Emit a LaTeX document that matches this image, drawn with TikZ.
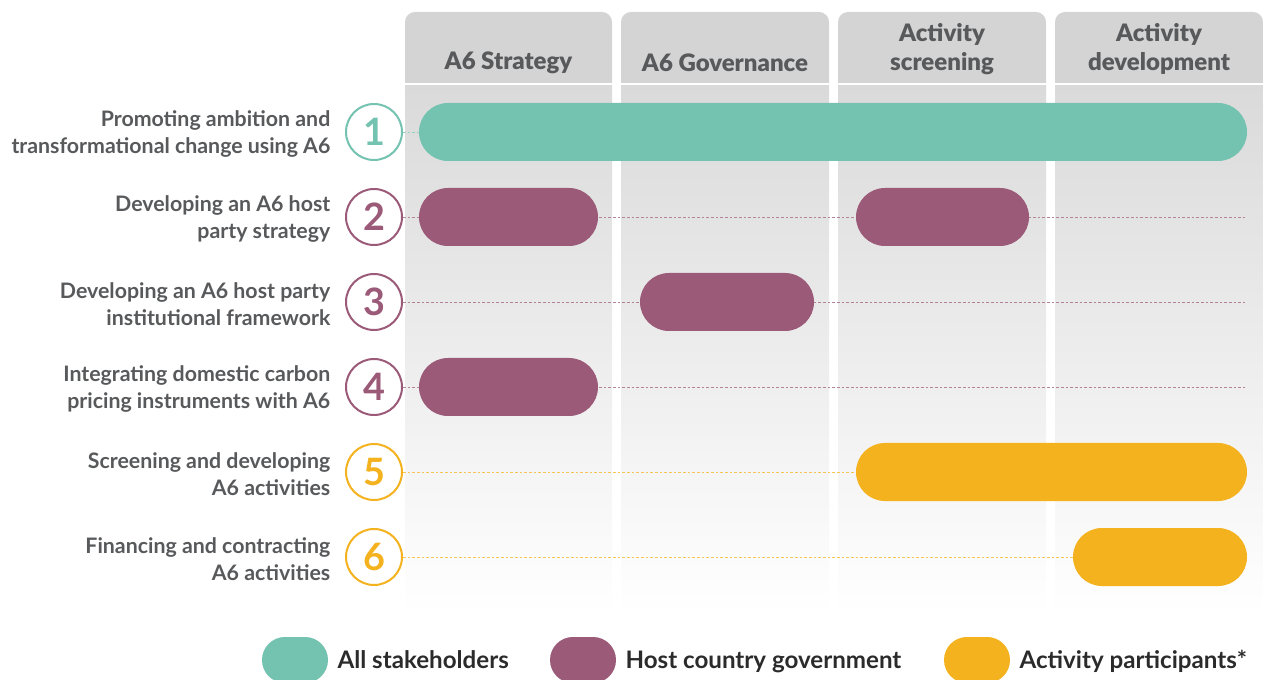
\documentclass[tikz,border=0pt]{standalone}
\usepackage{fontspec}
\setmainfont{Lato}
\newfontfamily\heavyfont{Lato Black}
\usetikzlibrary{positioning}
\definecolor{tealbar}{HTML}{74C2B0}
\definecolor{plumbar}{HTML}{9B5A78}
\definecolor{goldbar}{HTML}{F3B21E}
\definecolor{headgray}{HTML}{D4D4D4}
\definecolor{bodygray}{HTML}{DADADA}
\definecolor{labelgray}{HTML}{58595B}
\definecolor{legendink}{HTML}{2B2B2B}
\tikzstyle{coltitle} = [align=center, text=labelgray,
    font=\fontsize{18}{21.75}\selectfont\heavyfont]
\tikzstyle{rowlabel} = [align=right, anchor=east, text=labelgray,
    font=\fontsize{16}{20}\selectfont\bfseries]
\tikzstyle{numring} = [circle, draw, line width=1.5pt, fill=white,
    minimum size=42pt, inner sep=0pt, font=\fontsize{28.3}{28.3}\selectfont\bfseries]
\tikzstyle{pill} = [rectangle, rounded corners=21.7pt, minimum height=43.5pt, inner sep=0pt]
\tikzstyle{keypill} = [rectangle, rounded corners=17.2pt, minimum height=34.5pt,
    minimum width=49.5pt, inner sep=0pt]
\tikzstyle{keytext} = [anchor=west, text=legendink, text height=13pt, text depth=0pt,
    inner sep=0pt, font=\fontsize{18.1}{22}\selectfont\bfseries]
\tikzstyle{guide} = [line width=0.6pt, dash pattern=on 2pt off 1.5pt]

\begin{document}
\begin{tikzpicture}[x=0.75pt, y=-0.75pt]
    \useasboundingbox (0,0) rectangle (1263,680);
    % columns
    \foreach \l/\r/\ty/\title in {405/612/63/A6 Strategy, 621/829/63/A6 Governance,
            838/1046/49/Activity\\screening, 1055/1263/49/Activity\\development}{
        \fill[headgray] (\l,83) [rounded corners=7.5pt] -- (\l,12) -- (\r,12)
            [sharp corners] -- (\r,83) -- cycle;
        \shade[top color=bodygray, bottom color=white] (\l,86) rectangle (\r,615);
        \node[coltitle] at ({(\l+\r)/2},\ty) {\title};
    }
    % rows
    \foreach \i/\y/\c/\txt in {
            1/132/tealbar/Promoting ambition and\\transformational change using A6,
            2/217/plumbar/Developing an A6 host\\party strategy,
            3/302/plumbar/Developing an A6 host party\\institutional framework,
            4/387/plumbar/Integrating domestic carbon\\pricing instruments with A6,
            5/472/goldbar/Screening and developing\\A6 activities,
            6/557/goldbar/Financing and contracting\\A6 activities}{
        \node[rowlabel] (lab\i) at (335,\y+2) {\txt};
        \node[numring, draw=\c, text=\c] (n\i) at (374,\y) {\i};
        \coordinate (end\i) at (1245,\y);
        \draw[guide, draw=\c!75] (n\i.east) -- (end\i);
    }
    % bars
    \foreach \l/\r/\y/\c/\nm in {419/1247/132/tealbar/b1, 419/598/217/plumbar/b2a,
            856/1029/217/plumbar/b2b, 640/814/302/plumbar/b3, 419/598/387/plumbar/b4,
            856/1247/472/goldbar/b5, 1073/1247/557/goldbar/b6}{
        \node[pill, fill=\c, minimum width={(\r-\l)*0.75pt}] (\nm) at ({(\l+\r)/2},\y) {};
    }
    % legend
    \node[keypill, fill=tealbar] (keyA) at (295,660) {};
    \node[keytext] (txtA) [right=6.75pt of keyA] {All stakeholders};
    \node[keypill, fill=plumbar] (keyB) at (583,660) {};
    \node[keytext] (txtB) [right=6.75pt of keyB] {Host country government};
    \node[keypill, fill=goldbar] (keyC) at (977,660) {};
    \node[keytext] (txtC) [right=6.75pt of keyC] {Activity participants*};
\end{tikzpicture}
\end{document}
